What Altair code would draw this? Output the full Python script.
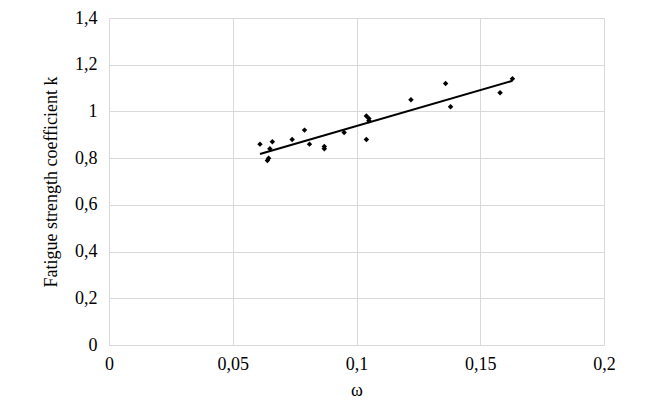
import altair as alt
import pandas as pd

omega = [0.061, 0.064, 0.0645, 0.065, 0.066, 0.074, 0.079, 0.081, 0.087, 0.087,
         0.095, 0.104, 0.104, 0.105, 0.105, 0.122, 0.136, 0.138, 0.158, 0.163]
k = [0.86, 0.79, 0.80, 0.84, 0.87, 0.88, 0.92, 0.86, 0.85, 0.84,
     0.91, 0.98, 0.88, 0.96, 0.97, 1.05, 1.12, 1.02, 1.08, 1.14]

df = pd.DataFrame({"omega": omega, "k": k})
font = "Liberation Serif"

x = alt.X("omega:Q", title="ω", scale=alt.Scale(domain=[0, 0.2], nice=False),
          axis=alt.Axis(values=[0, 0.05, 0.1, 0.15, 0.2], format=".2~f", labelExpr="replace(datum.label, '.', ',')",
                        domain=True, domainColor="#d9d9d9", ticks=False, labelPadding=10, titlePadding=8))
y = alt.Y("k:Q", title="Fatigue strength coefficient k", scale=alt.Scale(domain=[0, 1.4], nice=False),
          axis=alt.Axis(values=[0, 0.2, 0.4, 0.6, 0.8, 1, 1.2, 1.4], format=".1~f",
                        labelExpr="replace(datum.label, '.', ',')",
                        domain=False, ticks=False, labelPadding=12, titlePadding=14))

base = alt.Chart(df)
pts = base.mark_point(shape="diamond", filled=True, color="black", size=30, opacity=1).encode(x=x, y=y)
line = base.transform_regression("omega", "k").mark_line(color="black", strokeWidth=2).encode(x=x, y=y)

chart = (line + pts).properties(
    width=495, height=327, padding={"left": 34, "top": 1, "right": 5, "bottom": 5}
).configure_axis(
    labelFont=font, titleFont=font, labelFontSize=18, titleFontSize=18,
    labelColor="black", titleColor="black", titleFontWeight="normal",
    gridColor="#d9d9d9", labelFlush=False
).configure_view(stroke=None)

chart.save("out.html", embed_options={"renderer": "svg", "actions": False})
